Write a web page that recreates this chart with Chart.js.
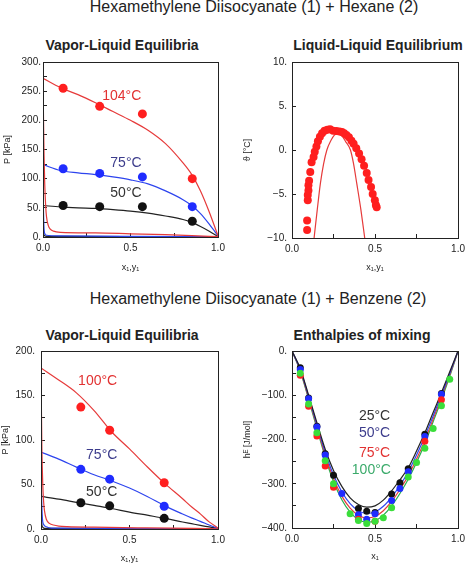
<!DOCTYPE html>
<html>
<head>
<meta charset="utf-8">
<script src="https://cdn.jsdelivr.net/npm/chart.js@4.4.1/dist/chart.umd.min.js"></script>
<style>
  body { margin: 0; background: #fff; width: 474px; height: 564px; position: relative; overflow: hidden;
         font-family: 'Liberation Sans', Arial, sans-serif; color: #222; }
  canvas { position: absolute; left: 0; top: 0; }
  .title { position: absolute; font-size: 16px; line-height: 16px; white-space: nowrap; transform: translateX(-50%); }
  .sub { position: absolute; font-size: 14px; line-height: 14px; font-weight: bold; white-space: nowrap; transform: translateX(-50%); }
</style>
</head>
<body>
<div class="title" style="left:254px; top:-1px">Hexamethylene Diisocyanate (1) + Hexane (2)</div>
<div class="title" style="left:258px; top:291px">Hexamethylene Diisocyanate (1) + Benzene (2)</div>
<div class="sub" style="left:122px; top:38px">Vapor-Liquid Equilibria</div>
<div class="sub" style="left:378px; top:38px">Liquid-Liquid Equilibrium</div>
<div class="sub" style="left:122px; top:328px">Vapor-Liquid Equilibria</div>
<div class="sub" style="left:362px; top:328px">Enthalpies of mixing</div>
<canvas id="hexVle" width="474" height="564"></canvas>
<canvas id="hexLle" width="474" height="564"></canvas>
<canvas id="benVle" width="474" height="564"></canvas>
<canvas id="benHe" width="474" height="564"></canvas>
<script>
const FONT = "'Liberation Sans', Arial, sans-serif";
Chart.defaults.font.family = FONT;
Chart.defaults.color = '#222';

// shared x ticks (mole fraction)
const xTickVals = [0, 0.25, 0.5, 0.75, 1];
const xTickText = ['0.0', '', '0.5', '', '1.0'];

// HDI + hexane, VLE
const hexPTicks = [0, 25, 50, 75, 100, 125, 150, 175, 200, 225, 250, 275, 300];
const hexPLabels = [0, 50, 100, 150, 200, 250, 300];
const hexX = [0.115, 0.324, 0.568, 0.853];
const hexP104 = [255, 224, 211, 100];
const hexP75 = [117, 109, 103, 52];
const hexP50 = [54, 52, 52, 27];
const hexBubX = [0, 0.1, 0.2, 0.3, 0.4, 0.5, 0.6, 0.7, 0.8, 0.85, 0.9, 0.95, 1];
const hexBub104 = [272, 256, 244, 230, 215, 200, 183, 160, 127, 107, 79, 43, 2];
const hexBub75 = [124, 114, 110, 107, 103, 98, 91, 79, 64, 54, 40, 22, 2];
const hexBub50 = [54, 51.5, 50, 49, 47, 44.5, 41, 36, 30, 25, 18, 10, 1];
const hexDewX104 = [0, 0.003, 0.006, 0.01, 0.015, 0.02, 0.03, 0.04, 0.06, 0.1, 0.3, 0.5, 0.7, 0.85, 1];
const hexDew104 = [272, 200, 140, 90, 55, 35, 20, 14, 10, 8, 7, 5.5, 4, 2.5, 0.5];
const hexDewX75 = [0, 0.002, 0.005, 0.01, 0.02, 0.1, 0.5, 1];
const hexDew75 = [124, 60, 20, 6, 3, 2, 1, 0.3];
const hexDewX50 = [0, 0.002, 0.005, 0.02, 1];
const hexDew50 = [54, 15, 4, 1, 0.2];

// HDI + hexane, LLE
const lleTTicks = [-10, -5, 0, 5, 10];
const lleX = [0.091, 0.091, 0.095, 0.095, 0.099, 0.099, 0.103, 0.110, 0.118, 0.130,
              0.137, 0.147, 0.156, 0.168, 0.181, 0.196, 0.213, 0.229, 0.248, 0.267,
              0.286, 0.301, 0.314, 0.328, 0.343, 0.358, 0.371, 0.387, 0.404, 0.419,
              0.434, 0.450, 0.461, 0.476, 0.486, 0.499, 0.505, 0.510];
const lleT = [-9.1, -8.0, -5.7, -5.1, -4.6, -4.0, -3.5, -2.5, -1.4, -0.8,
              -0.2, 0.4, 1.0, 1.5, 1.9, 2.2, 2.3, 2.35, 2.2, 2.15,
              2.1, 2.05, 1.9, 1.7, 1.45, 1.05, 0.7, 0.2, -0.4, -1.05,
              -1.8, -2.6, -3.4, -4.2, -5.0, -5.7, -6.25, -6.5];
const lleCurveX = [0.133, 0.152, 0.171, 0.19, 0.21, 0.235, 0.255, 0.276, 0.3, 0.325, 0.352, 0.37, 0.39, 0.415, 0.438];
const lleCurveT = [-10, -6.8, -3.8, -1.6, 0, 1.1, 1.7, 1.9, 1.6, 0.9, 0, -1.5, -3.8, -6.8, -10];

// HDI + benzene, VLE
const benPTicks = [0, 25, 50, 75, 100, 125, 150, 175, 200];
const benPLabels = [0, 50, 100, 150, 200];
const benX = [0.225, 0.388, 0.696];
const benP100 = [137, 111, 52];
const benP75 = [67, 56, 25.5];
const benP50 = [29.5, 26, 12];
const benBubX = [0, 0.1, 0.2, 0.3, 0.4, 0.5, 0.6, 0.7, 0.8, 0.85, 0.9, 0.95, 1];
const benBub100 = [181, 167.5, 153, 133, 109, 90, 70, 51, 34, 25, 17, 8, 1];
const benBub75 = [86.5, 78.5, 69.5, 61, 54, 46, 36.6, 26, 16.8, 12.5, 8.6, 4.5, 0.7];
const benBub50 = [36.6, 33.6, 30, 26.5, 23, 19, 15.5, 12, 7.9, 6, 4.1, 2.3, 0.7];
const benDewX100 = [0, 0.002, 0.005, 0.01, 0.015, 0.02, 0.03, 0.05, 0.07, 0.1, 0.15, 0.3, 0.6, 1];
const benDew100 = [181, 140, 90, 50, 30, 20, 11, 6, 4.5, 3.3, 2.6, 2, 1.2, 0.3];
const benDewX75 = [0, 0.003, 0.008, 0.015, 0.03, 0.06, 1];
const benDew75 = [86.5, 40, 12, 5, 2.5, 1, 0.2];
const benDewX50 = [0, 0.003, 0.008, 0.02, 1];
const benDew50 = [36.6, 10, 2.5, 0.8, 0.1];

// HDI + benzene, excess enthalpy
const heTicks = [-400, -350, -300, -250, -200, -150, -100, -50, 0];
const heLabels = [-400, -300, -200, -100, 0];
const heX25 = [0.05, 0.1, 0.15, 0.2, 0.25, 0.4, 0.45, 0.5, 0.6, 0.65, 0.7, 0.8, 0.9];
const he25 = [-38, -106, -170, -232, -281, -356, -362, -365, -323, -298, -266, -188, -96];
const heX50 = [0.05, 0.1, 0.15, 0.2, 0.3, 0.4, 0.45, 0.5, 0.6, 0.65, 0.7, 0.8, 0.9];
const he50 = [-42, -108, -172, -235, -322, -370, -380, -368, -338, -311, -273, -193, -98];
const heX75 = [0.05, 0.1, 0.15, 0.2, 0.25, 0.4, 0.5, 0.8, 0.9];
const he75 = [-55, -125, -192, -260, -308, -380, -385, -204, -110];
const heX100 = [0.05, 0.1, 0.15, 0.2, 0.25, 0.35, 0.4, 0.45, 0.5, 0.55, 0.6, 0.7, 0.75, 0.8, 0.85, 0.9, 0.95];
const he100 = [-50, -120, -185, -248, -300, -368, -383, -390, -385, -377, -354, -285, -252, -220, -175, -124, -64];
const heCurveX = [0, 0.05, 0.1, 0.15, 0.2, 0.25, 0.3, 0.35, 0.4, 0.45, 0.5, 0.55, 0.6, 0.65, 0.7, 0.75, 0.8, 0.85, 0.9, 0.95, 1];
const heC25 = [0, -40, -100, -162, -222, -270, -306, -332, -347, -353, -350, -337, -316, -291, -264, -226, -185, -139, -94, -47, 0];
const heC50 = [0, -42, -103, -167, -229, -280, -318, -345, -361, -367, -364, -351, -330, -304, -273, -235, -193, -147, -100, -51, 0];
const heC75 = [0, -44, -106, -171, -235, -288, -328, -355, -371, -377, -374, -361, -340, -313, -282, -244, -202, -154, -105, -54, 0];
const heC100 = [0, -46, -109, -175, -240, -295, -336, -364, -381, -387, -384, -371, -350, -322, -290, -252, -209, -160, -110, -57, 0];

const RED = '#ff1f1f', BLUE = '#1f2cff', BLACK = '#111', GREEN = '#3ade3a';
const RED_L = '#e63a3a', BLUE_L = '#2d44ee', BLACK_L = '#222', GREEN_L = '#26b04e';

const pts = (xs, ys) => xs.map((x, i) => ({ x: x, y: ys[i] }));
const fmtY = v => (v < 0 ? '\u2212' + (-v) : String(v)) + '.';

function markers(xs, ys, color, r) {
  return { data: pts(xs, ys), backgroundColor: color, borderColor: color, pointRadius: r, borderWidth: 0, order: 0 };
}
function curve(xs, ys, color) {
  return { data: pts(xs, ys), showLine: true, borderColor: color, borderWidth: 1.2, pointRadius: 0,
           cubicInterpolationMode: 'monotone', fill: false, order: 1 };
}

function axes(o) {
  return {
    x: {
      type: 'linear', min: 0, max: 1,
      afterBuildTicks: s => { s.ticks = xTickVals.map(v => ({ value: v })); },
      afterFit: s => { s.height = o.xHeight; },
      ticks: { autoSkip: false, maxRotation: 0, padding: 9, font: { size: 10 },
               callback: v => xTickText[xTickVals.indexOf(v)] },
      grid: { drawOnChartArea: false, tickLength: -4, color: '#222' },
      border: { display: false },
      title: { display: true, text: o.xTitle, font: { size: 9 }, padding: 0 }
    },
    y: {
      type: 'linear', min: o.yTicks[0], max: o.yTicks[o.yTicks.length - 1],
      afterBuildTicks: s => { s.ticks = o.yTicks.map(v => ({ value: v })); },
      afterFit: s => { s.width = o.yWidth; },
      ticks: { autoSkip: false, padding: o.yPad, font: { size: 10 },
               callback: v => o.yLabels.includes(v) ? fmtY(v) : '' },
      grid: { drawOnChartArea: false, tickLength: -4, color: '#222' },
      border: { display: false },
      title: { display: true, text: o.yTitle, font: { size: 9 }, padding: { top: o.yTitlePad, bottom: 0 } }
    }
  };
}

function extras(labels) {
  return {
    id: 'extras',
    afterDatasetsDraw(chart) {
      const ctx = chart.ctx, sx = chart.scales.x, sy = chart.scales.y;
      ctx.save();
      ctx.font = '14px ' + FONT;
      ctx.textAlign = 'center';
      ctx.textBaseline = 'middle';
      labels.forEach(l => {
        ctx.fillStyle = l.color;
        ctx.fillText(l.text, sx.getPixelForValue(l.x), sy.getPixelForValue(l.y));
      });
      const a = chart.chartArea;
      ctx.strokeStyle = '#222';
      ctx.lineWidth = 1;
      ctx.strokeRect(Math.round(a.left) + 0.5, Math.round(a.top) + 0.5,
                     Math.round(a.right - a.left), Math.round(a.bottom - a.top));
      ctx.restore();
    }
  };
}

function makeChart(id, datasets, scales, padding, labels) {
  return new Chart(document.getElementById(id), {
    type: 'scatter',
    data: { datasets: datasets },
    options: {
      responsive: false, animation: false,
      layout: { padding: padding },
      plugins: { legend: { display: false }, tooltip: { enabled: false } },
      scales: scales
    },
    plugins: [extras(labels)]
  });
}

makeChart('hexVle', [
  markers(hexX, hexP104, RED, 4.5),
  markers(hexX, hexP75, BLUE, 4.5),
  markers(hexX, hexP50, BLACK, 4.5),
  curve(hexBubX, hexBub104, RED_L), curve(hexDewX104, hexDew104, RED_L),
  curve(hexBubX, hexBub75, BLUE_L), curve(hexDewX75, hexDew75, BLUE_L),
  curve(hexBubX, hexBub50, BLACK_L), curve(hexDewX50, hexDew50, BLACK_L)
], axes({ xTitle: 'x\u2081,y\u2081', yTitle: 'P [kPa]', yTicks: hexPTicks, yLabels: hexPLabels,
          xHeight: 36, yWidth: 43, yPad: 6, yTitlePad: 2 }),
  { left: 0, top: 62, right: 256, bottom: 291 },
  [{ text: '104°C', x: 0.45, y: 241, color: '#e23232' },
   { text: '75°C', x: 0.474, y: 126, color: '#3c3c8c' },
   { text: '50°C', x: 0.474, y: 75, color: '#333' }]);

makeChart('hexLle', [
  markers(lleX, lleT, RED, 4),
  curve(lleCurveX, lleCurveT, RED_L)
], axes({ xTitle: 'x\u2081,y\u2081', yTitle: '\u03d1 [°C]', yTicks: lleTTicks, yLabels: lleTTicks,
          xHeight: 35, yWidth: 50, yPad: 9, yTitlePad: 0 }),
  { left: 242, top: 62, right: 7, bottom: 291 }, []);

makeChart('benVle', [
  markers(benX, benP100, RED, 4.5),
  markers(benX, benP75, BLUE, 4.5),
  markers(benX, benP50, BLACK, 4.5),
  curve(benBubX, benBub100, RED_L), curve(benDewX100, benDew100, RED_L),
  curve(benBubX, benBub75, BLUE_L), curve(benDewX75, benDew75, BLUE_L),
  curve(benBubX, benBub50, BLACK_L), curve(benDewX50, benDew50, BLACK_L)
], axes({ xTitle: 'x\u2081,y\u2081', yTitle: 'P [kPa]', yTicks: benPTicks, yLabels: benPLabels,
          xHeight: 35, yWidth: 41, yPad: 10, yTitlePad: 0 }),
  { left: 0, top: 351, right: 256, bottom: 0 },
  [{ text: '100°C', x: 0.32, y: 166, color: '#e23232' },
   { text: '75°C', x: 0.343, y: 83, color: '#3c3c8c' },
   { text: '50°C', x: 0.343, y: 41, color: '#333' }]);

makeChart('benHe', [
  markers(heX100, he100, GREEN, 3.5),
  markers(heX75, he75, RED, 3.5),
  markers(heX50, he50, BLUE, 3.5),
  markers(heX25, he25, BLACK, 3.5),
  curve(heCurveX, heC25, BLACK_L),
  curve(heCurveX, heC50, BLUE_L),
  curve(heCurveX, heC75, RED_L),
  curve(heCurveX, heC100, GREEN_L)
], axes({ xTitle: 'x\u2081', yTitle: 'h\u1d31 [J/mol]', yTicks: heTicks, yLabels: heLabels,
          xHeight: 34, yWidth: 50, yPad: 9, yTitlePad: 0 }),
  { left: 242, top: 351, right: 7, bottom: 2 },
  [{ text: '25°C', x: 0.497, y: -148, color: '#333' },
   { text: '50°C', x: 0.497, y: -186, color: '#3c3c8c' },
   { text: '75°C', x: 0.497, y: -230, color: '#e23232' },
   { text: '100°C', x: 0.478, y: -269, color: '#3aaa6a' }]);
</script>
</body>
</html>
